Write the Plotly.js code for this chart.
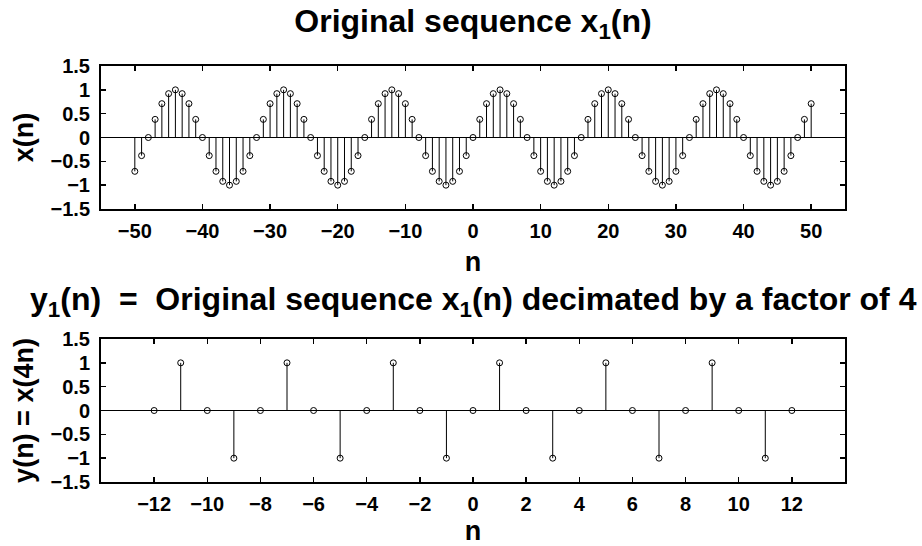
<!DOCTYPE html>
<html>
<head>
<meta charset="utf-8">
<script src="https://cdn.plot.ly/plotly-3.0.1.min.js"></script>
<style>html,body{margin:0;padding:0;background:#fff;}#chart{width:922px;height:546px;}</style>
</head>
<body>
<div id="chart"></div>
<script>
// Top: original sequence x1(n), n = -50..50
const nTop = [-50,-49,-48,-47,-46,-45,-44,-43,-42,-41,-40,-39,-38,-37,-36,-35,-34,-33,-32,-31,-30,-29,-28,-27,-26,-25,-24,-23,-22,-21,-20,-19,-18,-17,-16,-15,-14,-13,-12,-11,-10,-9,-8,-7,-6,-5,-4,-3,-2,-1,0,1,2,3,4,5,6,7,8,9,10,11,12,13,14,15,16,17,18,19,20,21,22,23,24,25,26,27,28,29,30,31,32,33,34,35,36,37,38,39,40,41,42,43,44,45,46,47,48,49,50];
const xTop = [
  -0.71,-0.38,
  0,0.38,0.71,0.92,1,0.92,0.71,0.38,0,-0.38,-0.71,-0.92,-1,-0.92,-0.71,-0.38,
  0,0.38,0.71,0.92,1,0.92,0.71,0.38,0,-0.38,-0.71,-0.92,-1,-0.92,-0.71,-0.38,
  0,0.38,0.71,0.92,1,0.92,0.71,0.38,0,-0.38,-0.71,-0.92,-1,-0.92,-0.71,-0.38,
  0,0.38,0.71,0.92,1,0.92,0.71,0.38,0,-0.38,-0.71,-0.92,-1,-0.92,-0.71,-0.38,
  0,0.38,0.71,0.92,1,0.92,0.71,0.38,0,-0.38,-0.71,-0.92,-1,-0.92,-0.71,-0.38,
  0,0.38,0.71,0.92,1,0.92,0.71,0.38,0,-0.38,-0.71,-0.92,-1,-0.92,-0.71,-0.38,
  0,0.38,0.71
];
// Bottom: decimated sequence y(n) = x(4n), n = -12..12
const nBot = [-12,-11,-10,-9,-8,-7,-6,-5,-4,-3,-2,-1,0,1,2,3,4,5,6,7,8,9,10,11,12];
const yBot = [0,1,0,-1,0,1,0,-1,0,1,0,-1,0,1,0,-1,0,1,0,-1,0,1,0,-1,0];

const topXTicks = [-50,-40,-30,-20,-10,0,10,20,30,40,50];
const botXTicks = [-12,-10,-8,-6,-4,-2,0,2,4,6,8,10,12];
const yTickVals = [-1.5,-1,-0.5,0,0.5,1,1.5];
const yTickText = ['\u22121.5','\u22121','\u22120.5','0','0.5','1','1.5'];

const title1 = 'Original sequence x<sub>1</sub>(n)';
const title2 = 'y<sub>1</sub>(n)\u00A0\u00A0=\u00A0\u00A0Original sequence x<sub>1</sub>(n) decimated by a factor of 4';
const xTitle = 'n';
const yTitleTop = 'x(n)';
const yTitleBot = 'y(n) = x(4n)';

function stems(xs, ys) {
  const sx = [], sy = [];
  xs.forEach((x, i) => { sx.push(x, x, null); sy.push(0, ys[i], null); });
  return {sx, sy};
}
const s1 = stems(nTop, xTop);
const s2 = stems(nBot, yBot);

const FONT = 'Liberation Sans, Arial, Helvetica, sans-serif';
const tickFont = {family: FONT, size: 20, color: '#000', weight: 'bold'};
const titleFont = {family: FONT, size: 27, color: '#000', weight: 'bold'};
const headFont = {family: FONT, size: 32, color: '#000', weight: 'bold'};

const lineStyle = {color: '#000', width: 1};
const markerStyle = {symbol: 'circle-open', size: 6, color: '#000', line: {color: '#000', width: 1}};

const data = [
  {x: s1.sx, y: s1.sy, xaxis: 'x', yaxis: 'y', mode: 'lines', line: lineStyle, hoverinfo: 'skip', showlegend: false},
  {x: nTop, y: xTop, xaxis: 'x', yaxis: 'y', mode: 'markers', marker: markerStyle, showlegend: false},
  {x: s2.sx, y: s2.sy, xaxis: 'x2', yaxis: 'y2', mode: 'lines', line: lineStyle, hoverinfo: 'skip', showlegend: false},
  {x: nBot, y: yBot, xaxis: 'x2', yaxis: 'y2', mode: 'markers', marker: markerStyle, showlegend: false}
];

function xAxis(range, ticks, anchor) {
  return {
    domain: [0, 1], anchor: anchor, range: range, tickmode: 'array', tickvals: ticks,
    ticktext: ticks.map(t => t < 0 ? '\u2212' + Math.abs(t) : String(t)),
    ticks: 'inside', ticklen: 5, tickwidth: 1.5, tickcolor: '#000',
    showline: true, linewidth: 2, linecolor: '#000', mirror: 'ticks',
    showgrid: false, zeroline: false, tickfont: tickFont, ticklabelstandoff: 3,
    title: {text: xTitle, font: titleFont, standoff: 11}
  };
}
function yAxis(domain, anchor, title) {
  return {
    domain: domain, anchor: anchor, range: [-1.5, 1.5], tickmode: 'array',
    tickvals: yTickVals, ticktext: yTickText,
    ticks: 'inside', ticklen: 5, tickwidth: 1.5, tickcolor: '#000',
    showline: true, linewidth: 2, linecolor: '#000', mirror: 'ticks',
    showgrid: false, zeroline: true, zerolinecolor: '#000', zerolinewidth: 1,
    tickfont: tickFont, ticklabelstandoff: 5,
    title: {text: title, font: titleFont, standoff: 9}
  };
}

const layout = {
  width: 922, height: 546,
  margin: {l: 101, r: 77, t: 66, b: 64},
  paper_bgcolor: '#fff', plot_bgcolor: '#fff',
  showlegend: false,
  title: {text: title1, font: headFont,
          x: 0.5, xref: 'paper', y: 1 - 10 / 546, yref: 'container', yanchor: 'top'},
  xaxis: xAxis([-55, 55], topXTicks, 'y'),
  yaxis: yAxis([0.65625, 1], 'x', yTitleTop),
  xaxis2: xAxis([-14, 14], botXTicks, 'y2'),
  yaxis2: yAxis([0, 0.34375], 'x2', yTitleBot),
  annotations: [
    {text: title2, xref: 'paper', yref: 'paper', x: 0.5, y: (482 - 279) / 416, xanchor: 'center', yanchor: 'top',
     showarrow: false, font: headFont}
  ]
};

Plotly.newPlot('chart', data, layout, {displayModeBar: false, staticPlot: true});
</script>
</body>
</html>
